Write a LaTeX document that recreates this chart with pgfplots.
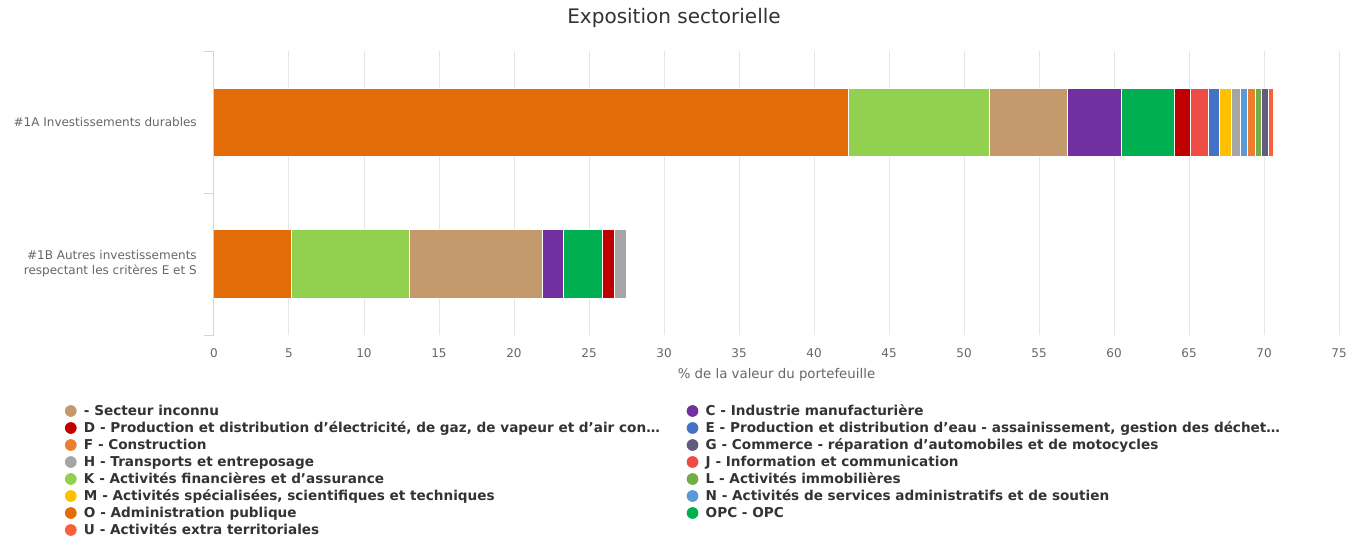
\documentclass[border=0pt]{standalone}
\usepackage{fontspec}
\setmainfont{DejaVu Sans}
\usepackage{pgfplots}
\pgfplotsset{compat=1.18}
\definecolor{cSec}{HTML}{C49A6C}
\definecolor{cC}{HTML}{7030A0}
\definecolor{cD}{HTML}{C00000}
\definecolor{cE}{HTML}{4472C4}
\definecolor{cF}{HTML}{ED7D31}
\definecolor{cG}{HTML}{635B7E}
\definecolor{cH}{HTML}{A5A5A5}
\definecolor{cJ}{HTML}{EE4B44}
\definecolor{cK}{HTML}{92D050}
\definecolor{cL}{HTML}{70AD47}
\definecolor{cM}{HTML}{FFC000}
\definecolor{cN}{HTML}{5B9BD5}
\definecolor{cO}{HTML}{E36C09}
\definecolor{cOPC}{HTML}{00B050}
\definecolor{cU}{HTML}{F8603C}
\definecolor{gridc}{HTML}{E6E6E6}
\definecolor{axisc}{HTML}{CCD6EB}
\definecolor{lblc}{HTML}{666666}
\definecolor{titlec}{HTML}{333333}
\newcommand{\colone}[1]{\makebox[452pt][l]{#1}}
\begin{document}
\begin{tikzpicture}
\useasboundingbox (0,0) rectangle (1017.75pt,-405.75pt);
\node[font=\fontsize{15}{18}\selectfont, text=titlec] at (505.5pt,-13.5pt) {Exposition sectorielle};
\begin{axis}[
  at={(160.5pt,-251.25pt)}, anchor=south west,
  scale only axis, width=843.75pt, height=213pt,
  xbar stacked, bar width=51pt,
  xmin=0, xmax=75, ymin=-0.5, ymax=1.5,
  xtick={0,5,...,75},
  ytick={0,1},
  yticklabels={{\#1B Autres investissements\\respectant les critères E et S},{\#1A Investissements durables}},
  minor ytick={-0.5,0.5,1.5},
  axis y line*=left, axis x line*=bottom,
  x axis line style={draw=none},
  y axis line style={draw=axisc, line width=0.75pt},
  xmajorgrids, major x grid style={draw=gridc, line width=0.75pt},
  xtick style={draw=none},
  major y tick style={draw=none},
  minor y tick style={draw=axisc, line width=0.75pt},
  tick align=outside, major tick length=0pt, minor tick length=7.5pt,
  /pgf/number format/assume math mode=true,
  xticklabel style={font=\fontsize{9}{11}\selectfont, text=lblc, inner sep=0pt, anchor=north, yshift=-10.2pt},
  yticklabel style={font=\fontsize{9}{11.25}\selectfont, text=lblc, align=right, inner sep=0pt, anchor=east, xshift=-12.75pt},
  xlabel={\% de la valeur du portefeuille},
  xlabel style={font=\fontsize{10}{12}\selectfont, text=lblc, at={(axis description cs:0.5,0)}, anchor=center, yshift=-30pt},
  legend columns=2,
  legend style={draw=none, fill=none, at={(axis description cs:-0.1325,-0.2377)}, anchor=north west,
    inner sep=0pt, outer sep=0pt, font=\bfseries\fontsize{10.2}{12}\selectfont, text=titlec,
    nodes={inner sep=0pt, text height=9.5pt, text depth=3.25pt}, cells={anchor=west}, row sep=0pt,
    /tikz/every odd column/.style={column sep=5.5pt}},
  legend image code/.code={\fill[#1, draw=none] (4.4pt,0pt) circle (4.4pt);},
  every axis plot/.append style={draw=white, line width=0.75pt},
]
\addplot[fill=cO, forget plot] coordinates {(42.27,1) (5.20,0)};
\addplot[fill=cK, forget plot] coordinates {(9.40,1) (7.80,0)};
\addplot[fill=cSec, forget plot] coordinates {(5.20,1) (8.87,0)};
\addplot[fill=cC, forget plot] coordinates {(3.60,1) (1.40,0)};
\addplot[fill=cOPC, forget plot] coordinates {(3.53,1) (2.60,0)};
\addplot[fill=cD, forget plot] coordinates {(1.13,1) (0.83,0)};
\addplot[fill=cJ, forget plot] coordinates {(1.17,1) (0,0)};
\addplot[fill=cE, forget plot] coordinates {(0.73,1) (0,0)};
\addplot[fill=cM, forget plot] coordinates {(0.80,1) (0,0)};
\addplot[fill=cH, forget plot] coordinates {(0.63,1) (0.83,0)};
\addplot[fill=cN, forget plot] coordinates {(0.47,1) (0,0)};
\addplot[fill=cF, forget plot] coordinates {(0.47,1) (0,0)};
\addplot[fill=cL, forget plot] coordinates {(0.43,1) (0,0)};
\addplot[fill=cG, forget plot] coordinates {(0.47,1) (0,0)};
\addplot[fill=cU, forget plot] coordinates {(0.33,1) (0,0)};
\addlegendimage{fill=cSec}\addlegendentry{\colone{- Secteur inconnu}}
\addlegendimage{fill=cC}\addlegendentry{C - Industrie manufacturière}
\addlegendimage{fill=cD}\addlegendentry{\colone{D - Production et distribution d'électricité, de gaz, de vapeur et d'air con…}}
\addlegendimage{fill=cE}\addlegendentry{E - Production et distribution d'eau - assainissement, gestion des déchet…}
\addlegendimage{fill=cF}\addlegendentry{\colone{F - Construction}}
\addlegendimage{fill=cG}\addlegendentry{G - Commerce - réparation d'automobiles et de motocycles}
\addlegendimage{fill=cH}\addlegendentry{\colone{H - Transports et entreposage}}
\addlegendimage{fill=cJ}\addlegendentry{J - Information et communication}
\addlegendimage{fill=cK}\addlegendentry{\colone{K - Activités financières et d'assurance}}
\addlegendimage{fill=cL}\addlegendentry{L - Activités immobilières}
\addlegendimage{fill=cM}\addlegendentry{\colone{M - Activités spécialisées, scientifiques et techniques}}
\addlegendimage{fill=cN}\addlegendentry{N - Activités de services administratifs et de soutien}
\addlegendimage{fill=cO}\addlegendentry{\colone{O - Administration publique}}
\addlegendimage{fill=cOPC}\addlegendentry{OPC - OPC}
\addlegendimage{fill=cU}\addlegendentry{\colone{U - Activités extra territoriales}}
\end{axis}
\end{tikzpicture}
\end{document}
